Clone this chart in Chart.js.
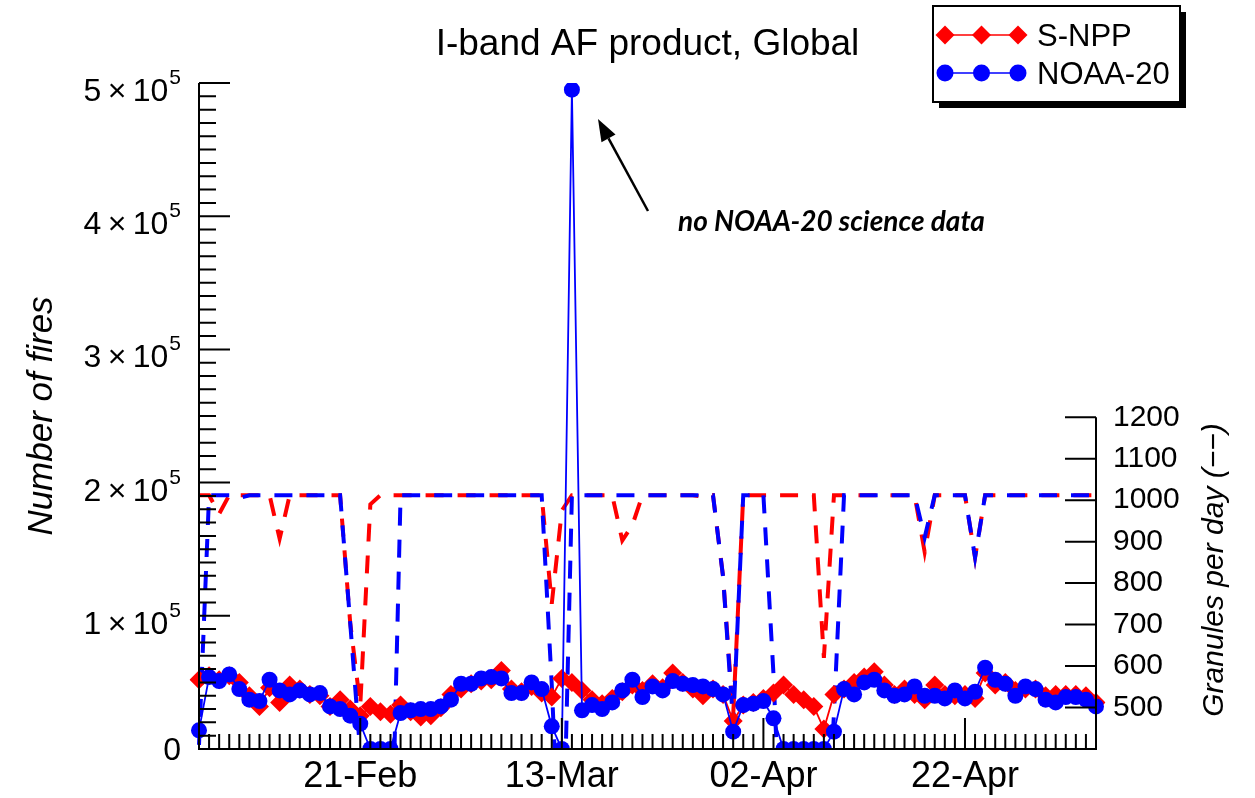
<!DOCTYPE html>
<html><head><meta charset="utf-8">
<script src="https://cdn.jsdelivr.net/npm/chart.js@4.4.1/dist/chart.umd.min.js"></script>
<style>html,body{margin:0;padding:0;background:#fff}#wrap{position:relative;width:1255px;height:798px}</style>
</head><body><div id="wrap"><canvas id="c" width="1255" height="798"></canvas></div>
<script>
const dates = ['05-Feb','06-Feb','07-Feb','08-Feb','09-Feb','10-Feb','11-Feb','12-Feb','13-Feb','14-Feb','15-Feb','16-Feb','17-Feb','18-Feb','19-Feb','20-Feb','21-Feb','22-Feb','23-Feb','24-Feb','25-Feb','26-Feb','27-Feb','28-Feb',
'01-Mar','02-Mar','03-Mar','04-Mar','05-Mar','06-Mar','07-Mar','08-Mar','09-Mar','10-Mar','11-Mar','12-Mar','13-Mar','14-Mar','15-Mar','16-Mar','17-Mar','18-Mar','19-Mar','20-Mar','21-Mar','22-Mar','23-Mar','24-Mar','25-Mar','26-Mar','27-Mar','28-Mar','29-Mar','30-Mar','31-Mar',
'01-Apr','02-Apr','03-Apr','04-Apr','05-Apr','06-Apr','07-Apr','08-Apr','09-Apr','10-Apr','11-Apr','12-Apr','13-Apr','14-Apr','15-Apr','16-Apr','17-Apr','18-Apr','19-Apr','20-Apr','21-Apr','22-Apr','23-Apr','24-Apr','25-Apr','26-Apr','27-Apr','28-Apr','29-Apr','30-Apr',
'01-May','02-May','03-May','04-May','05-May'];
const majorDateLabels = ['21-Feb','13-Mar','02-Apr','22-Apr'];
const seriesNames = ['S-NPP','NOAA-20'];

const snppFires = [52000,55000,52000,55000,50000,40000,32000,46000,35000,48000,
 45000,41000,40000,32000,37000,30000,25000,32000,28000,26000,
 33000,28000,24000,25000,31000,41000,45000,49000,51000,52000,
 59000,45000,43000,47000,42000,39000,53000,50000,44000,37000,
 34000,38000,43000,48000,44000,49000,46000,57000,50000,45000,
 40000,45000,41000,21000,33000,35000,38000,42000,48000,41000,
 37000,32000,15000,41000,45000,50000,54000,58000,48000,41000,
 45000,41000,37000,48000,41000,40000,41000,38000,57000,48000,
 50000,44000,45000,45000,40000,41000,41000,41000,40000,35000];
const noaa20Fires = [14000,54000,51000,56000,45000,37000,36000,52000,44000,41000,
 44000,41000,42000,32000,30000,25000,19000,0,0,0,
 27000,29000,30000,30000,32000,37000,49000,49000,53000,54000,
 53000,42000,42000,50000,45000,17000,0,495000,29000,33000,
 30000,35000,44000,52000,39000,47000,44000,51000,49000,48000,
 47000,45000,41000,13000,33000,34000,36000,23000,0,0,
 0,0,0,13000,45000,41000,50000,52000,44000,40000,
 41000,47000,40000,40000,38000,44000,38000,43000,61000,52000,
 49000,40000,47000,45000,37000,35000,39000,39000,37000,32000];
const snppGranules = [1012,1012,967,1012,1012,1012,1012,1012,907,1012,
 1012,1012,1012,1012,1012,705,505,990,1012,1012,
 1012,1012,1012,1012,1012,1012,1012,1012,1012,1012,
 1012,1012,1012,1012,1012,750,975,1012,1012,1012,
 1012,1012,903,940,1012,1012,1012,1012,1012,1012,
 1008,1012,815,480,1012,1012,1012,1012,1012,1012,
 1012,1012,620,1012,1012,1012,1012,1012,1012,1012,
 1012,1012,875,1012,1012,1012,1012,862,1012,1012,
 1012,1012,1012,1012,1012,1012,1012,1012,1012,1012];
const noaa20Granules = [410,1012,1012,1012,1005,1012,1012,1012,1012,1012,
 1012,1012,1012,1012,1012,705,390,0,0,0,
 1012,1012,1012,1012,1012,1012,1012,1012,1012,1012,
 1012,1012,1012,1012,1012,555,0,1012,1012,1012,
 1012,1012,1012,1012,1012,1012,1012,1012,1012,1012,
 1012,1012,815,460,1012,1012,1012,580,0,0,
 0,0,0,486,1012,1012,1012,1012,1012,1012,
 1012,1012,910,1012,1012,1012,1012,862,1012,1012,
 1012,1012,1012,1012,1012,1012,1012,1012,1012,1012];

const firesMajorTicks = [0,100000,200000,300000,400000,500000];
const firesMinorStep = 10000;
const granuleTicks = [500,600,700,800,900,1000,1100,1200];
const titleText = 'I-band AF product, Global';
const leftTitle = 'Number of fires';
const rightTitle = 'Granules per day (\u2212\u2212)';
const annotationText = 'no NOAA-20 science data';

const FONT = "'Liberation Sans', Arial, Helvetica, sans-serif";
const RED = '#ff0000', BLUE = '#0000ff';

const decor = {
  id: 'decor',
  afterDatasetsDraw(chart) {
    const {ctx, chartArea: a, scales} = chart;
    const x = scales.x, y = scales.y, y2 = scales.y2;
    ctx.save();
    ctx.strokeStyle = '#000';
    ctx.lineCap = 'butt';
    ctx.lineWidth = 2;
    ctx.beginPath();
    ctx.moveTo(a.left, a.top); ctx.lineTo(a.left, a.bottom); ctx.lineTo(a.right, a.bottom);
    ctx.lineTo(a.right, y2.getPixelForValue(granuleTicks[granuleTicks.length - 1]));
    ctx.stroke();
    ctx.beginPath();
    dates.forEach((d, i) => {
      const px = x.getPixelForValue(i);
      const len = majorDateLabels.includes(d) ? 31 : 15;
      ctx.moveTo(px, a.bottom); ctx.lineTo(px, a.bottom - len);
    });
    for (let v = y.min; v <= y.max; v += firesMinorStep) {
      const py = y.getPixelForValue(v);
      const len = firesMajorTicks.includes(v) ? 31 : 17;
      ctx.moveTo(a.left, py); ctx.lineTo(a.left + len, py);
    }
    granuleTicks.forEach(v => {
      const py = y2.getPixelForValue(v);
      ctx.moveTo(a.right, py); ctx.lineTo(a.right - 31, py);
    });
    ctx.stroke();

    // left tick labels with superscript exponent
    ctx.fillStyle = '#000';
    ctx.textAlign = 'right';
    ctx.textBaseline = 'alphabetic';
    const lx = a.left - 18;
    firesMajorTicks.forEach(v => {
      const py = y.getPixelForValue(v);
      if (v === 0) { ctx.font = `32px ${FONT}`; ctx.fillText('0', lx, py + 11); return; }
      ctx.font = `21px ${FONT}`;
      ctx.fillText('5', lx, py + 1);
      const w = ctx.measureText('5').width;
      ctx.font = `32px ${FONT}`;
      ctx.fillText(`${v / 100000}\u2009\u00d7\u200910`, lx - w - 1, py + 18);
    });

    // right axis title (reads bottom to top)
    ctx.save();
    ctx.translate(1215, 570);
    ctx.rotate(-Math.PI / 2);
    ctx.textAlign = 'center';
    ctx.textBaseline = 'middle';
    ctx.font = `italic 30px ${FONT}`;
    ctx.fillText(rightTitle, 0, 0);
    ctx.restore();

    // legend
    const lg = {x: 933, y: 6, w: 247, h: 96};
    ctx.fillStyle = '#000';
    ctx.fillRect(lg.x + 6, lg.y + 6, lg.w, lg.h);
    ctx.fillStyle = '#fff';
    ctx.fillRect(lg.x, lg.y, lg.w, lg.h);
    ctx.lineWidth = 2;
    ctx.strokeRect(lg.x, lg.y, lg.w, lg.h);
    const entries = [
      {ds: chart.data.datasets[1], yy: 35},
      {ds: chart.data.datasets[0], yy: 73}
    ];
    entries.forEach(e => {
      const col = e.ds.borderColor;
      ctx.strokeStyle = col; ctx.lineWidth = 1.6;
      ctx.beginPath(); ctx.moveTo(945, e.yy); ctx.lineTo(1018, e.yy); ctx.stroke();
      ctx.fillStyle = col;
      [945, 981.5, 1018].forEach(mx => {
        ctx.beginPath();
        if (e.ds.pointStyle === 'rectRot') {
          const r = 9.5;
          ctx.moveTo(mx - r, e.yy); ctx.lineTo(mx, e.yy - r); ctx.lineTo(mx + r, e.yy); ctx.lineTo(mx, e.yy + r);
        } else {
          ctx.arc(mx, e.yy, 8.5, 0, Math.PI * 2);
        }
        ctx.closePath(); ctx.fill();
      });
      ctx.fillStyle = '#000';
      ctx.textAlign = 'left'; ctx.textBaseline = 'alphabetic';
      ctx.font = `31px ${FONT}`;
      ctx.fillText(e.ds.label, 1037, e.yy + 11);
    });

    // annotation arrow
    const tip = {x: 598, y: 119}, tail = {x: 648, y: 211};
    const dx = tip.x - tail.x, dy = tip.y - tail.y, L = Math.hypot(dx, dy);
    const ux = dx / L, uy = dy / L, hl = 22, hw = 8;
    const bx = tip.x - ux * hl, by = tip.y - uy * hl;
    ctx.strokeStyle = '#000'; ctx.fillStyle = '#000'; ctx.lineWidth = 2.5;
    ctx.beginPath(); ctx.moveTo(tail.x, tail.y); ctx.lineTo(bx, by); ctx.stroke();
    ctx.beginPath();
    ctx.moveTo(tip.x, tip.y);
    ctx.lineTo(bx - uy * hw, by + ux * hw);
    ctx.lineTo(bx + uy * hw, by - ux * hw);
    ctx.closePath(); ctx.fill();
    let fs = 23;
    ctx.font = `italic bold ${fs}px Lato, 'Open Sans', sans-serif`;
    const mw = ctx.measureText(annotationText).width;
    fs = fs * 307 / mw;
    ctx.font = `italic bold ${fs.toFixed(1)}px Lato, 'Open Sans', sans-serif`;
    ctx.textAlign = 'left'; ctx.textBaseline = 'alphabetic';
    ctx.fillText(annotationText, 678, 231);
    ctx.restore();
  }
};

new Chart(document.getElementById('c'), {
  type: 'line',
  data: {
    labels: dates,
    datasets: [
      {label: seriesNames[1], data: noaa20Fires, yAxisID: 'y', borderColor: BLUE, backgroundColor: BLUE,
       borderWidth: 1.8, pointStyle: 'circle', pointRadius: 8, pointHoverRadius: 8, pointBorderWidth: 0, tension: 0, order: 0},
      {label: seriesNames[0], data: snppFires, yAxisID: 'y', borderColor: RED, backgroundColor: RED,
       borderWidth: 1.8, pointStyle: 'rectRot', pointRadius: 9.5, pointHoverRadius: 9.5, pointBorderWidth: 0, tension: 0, order: 1},
      {label: seriesNames[1] + ' granules', data: noaa20Granules, yAxisID: 'y2', borderColor: BLUE,
       borderWidth: 4, borderDash: [18, 14], borderDashOffset: 4, pointRadius: 0, tension: 0, order: 2},
      {label: seriesNames[0] + ' granules', data: snppGranules, yAxisID: 'y2', borderColor: RED,
       borderWidth: 4, borderDash: [18, 14], pointRadius: 0, tension: 0, order: 3}
    ]
  },
  options: {
    responsive: false,
    animation: false,
    devicePixelRatio: 1,
    events: [],
    layout: {padding: 0},
    plugins: {
      legend: {display: false},
      tooltip: {enabled: false},
      title: {display: true, text: titleText, fullSize: false, color: '#000',
              font: {family: FONT, size: 37, weight: 'normal', lineHeight: 1.2}, padding: {top: 23, bottom: 15.6}}
    },
    scales: {
      x: {
        type: 'category', offset: false,
        grid: {display: false, drawTicks: false}, border: {display: false},
        ticks: {autoSkip: false, maxRotation: 0, minRotation: 0, padding: 6, color: '#000',
                font: {family: FONT, size: 36},
                callback(v) { const l = this.getLabelForValue(v); return majorDateLabels.includes(l) ? l : null; }},
        afterFit(s) { s.height = 49; }
      },
      y: {
        position: 'left', min: 0, max: 500000,
        grid: {display: false, drawTicks: false}, border: {display: false},
        ticks: {display: false, stepSize: 100000},
        title: {display: true, text: leftTitle, color: '#000', font: {family: FONT, size: 35, style: 'italic'}, padding: {top: 21, bottom: 0}},
        afterFit(s) { s.width = 199; }
      },
      y2: {
        position: 'right', min: 400, max: 2006,
        grid: {display: false, drawTicks: false}, border: {display: false},
        afterBuildTicks(s) { s.ticks = granuleTicks.map(v => ({value: v})); },
        ticks: {autoSkip: false, padding: 17, color: '#000', font: {family: FONT, size: 30}, callback: v => String(v)},
        afterFit(s) { s.width = 159; }
      }
    }
  },
  plugins: [decor]
});
</script>
</body></html>
